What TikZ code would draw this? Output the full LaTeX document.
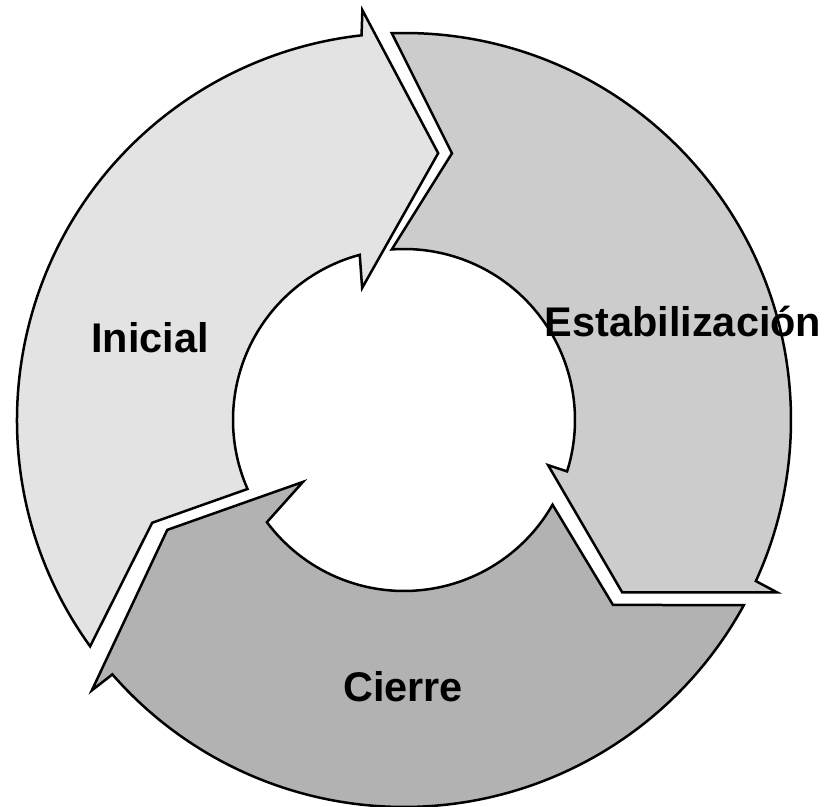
\documentclass[tikz,border=0pt]{standalone}
\usepackage{fontspec}
\setmainfont{Liberation Sans}
\usetikzlibrary{positioning}
\definecolor{inicialgray}{HTML}{E3E3E3}
\definecolor{estabgray}{HTML}{CCCCCC}
\definecolor{cierregray}{HTML}{B2B2B2}

\begin{document}
\begin{tikzpicture}[x=0.02cm,y=0.02cm,
	phase/.style={draw=black,line width=0.05cm,line join=miter},
	phaselabel/.style={font=\bfseries\fontsize{23.6}{28}\selectfont,inner sep=0pt,anchor=base}]
	\useasboundingbox (0,0) rectangle (831,807);
	\coordinate (center) at (404,387);
	\def\Ro{387}
	\def\Ri{171}
	\begin{scope}[shift={(center)}]
	\draw [phase,fill=inicialgray] (215.8:\Ro) arc[start angle=215.8,end angle=96.3,radius=\Ro] -- (95.8:412) -- (82.7:269) -- (107.6:138.5) -- (105:\Ri) arc[start angle=105,end angle=203.8,radius=\Ri] -- (202.2:272) -- cycle;
	\draw [phase,fill=estabgray] (91.8:\Ro) arc[start angle=91.8,end angle=-24.6,radius=\Ro] -- (-24.8:411) -- (-38.3:278) -- (-17.4:151) -- (-17.5:\Ri) arc[start angle=-17.5,end angle=94.1,radius=\Ri] -- (79.8:271) -- cycle;
	\draw [phase,fill=cierregray] (-28.6:\Ro) arc[start angle=-28.6,end angle=-138.9,radius=\Ro] -- (-139.1:413) -- (-155.1:261) -- (-148.5:118.5) -- (-143.3:\Ri) arc[start angle=-143.3,end angle=-29.7,radius=\Ri] -- (-41.5:279) -- cycle;
	\end{scope}
	\node [phaselabel] (inicial) at (150,454) {Inicial};
	\node [phaselabel] (estab) at (683,470) {Estabilización};
	\node [phaselabel] (cierre) at (403,105) {Cierre};
\end{tikzpicture}
\end{document}
